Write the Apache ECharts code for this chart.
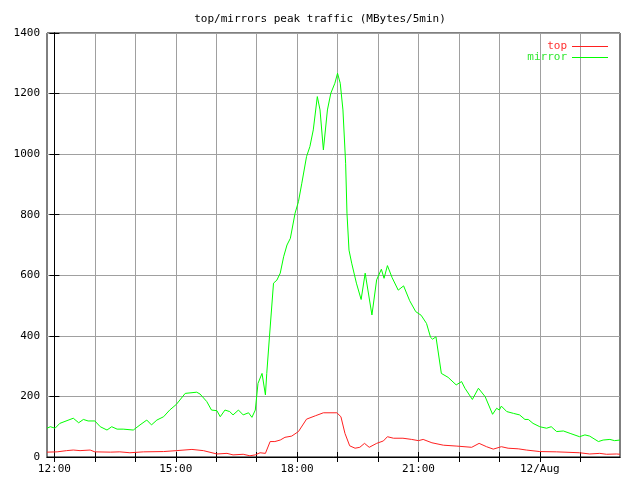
<!DOCTYPE html>
<html><head><meta charset="utf-8">
<script src="https://cdn.jsdelivr.net/npm/echarts@6/dist/echarts.min.js"></script>
<style>html,body{margin:0;padding:0;background:#fff}#c{width:640px;height:480px}</style>
</head><body><div id="c"></div>
<script>
// time in minutes after 12:00 (11 Aug)
const topTimes = [-11,4,18,28,38,53,60,83,97,112,132,162,181,204,221,241,256,265,280,290,298,305,313,320,327,335,342,352,362,374,387,399,419,425,431,438,446,453,460,467,478,488,494,503,517,530,540,547,560,577,597,619,630,641,651,663,673,688,700,720,745,779,794,809,819,834,839];
const topValues = [16,17,21,23,21,23,17,16,17,14,17,18,21,25,21,10,12,7,9,4,7,14,12,51,51,56,65,69,84,125,136,146,146,133,78,37,29,32,45,32,45,53,67,62,62,58,54,58,47,39,36,32,45,34,26,34,29,27,23,18,17,14,10,12,9,10,9];
const mirrorTimes = [-11,-6,1,8,28,36,43,50,60,68,78,85,93,102,117,127,137,144,152,162,171,181,194,211,216,226,233,241,246,253,260,265,273,280,288,293,298,302,308,313,315,319,325,330,335,340,345,350,357,362,367,374,379,384,390,394,399,405,410,416,420,424,428,432,434,437,441,448,455,461,471,478,485,489,494,501,510,518,527,536,544,552,558,561,566,574,584,596,604,609,620,629,639,650,656,660,663,671,681,690,698,703,710,720,730,737,745,755,765,779,787,794,807,814,824,831,839];
const mirrorValues = [95,100,95,111,128,113,124,119,119,100,89,100,92,92,89,106,122,106,122,133,155,174,210,214,208,183,155,153,133,155,150,139,155,139,146,131,155,243,276,205,276,397,574,584,607,661,700,722,805,843,904,992,1025,1080,1190,1146,1014,1146,1201,1234,1267,1234,1146,970,805,683,640,574,520,607,469,585,620,590,632,592,551,565,516,480,468,441,395,389,397,276,263,238,249,227,190,227,199,141,161,155,168,150,144,139,124,124,111,100,95,100,84,86,78,67,73,69,51,56,58,54,56];
const hourTicks = [0,60,120,180,240,300,360,420,480,540,600,660,720,780];
const labelTicks = [0,180,360,540,720];
const labelTexts = ['12:00','15:00','18:00','21:00','12/Aug'];

const font = 'DejaVu Sans Mono';
const pair = (ts, vs) => ts.map((t, i) => [t, vs[i]]);
const chart = echarts.init(document.getElementById('c'), null, {renderer: 'canvas'});
const xBase = {
  type: 'value', min: -11, max: 839,
  axisLine: {show: true, lineStyle: {color: '#000', width: 1}},
  axisTick: {show: true, inside: true, length: 5, customValues: hourTicks, lineStyle: {color: '#000'}},
  splitLine: {show: false}
};
chart.setOption({
  animation: false,
  backgroundColor: '#fff',
  title: {text: 'top/mirrors peak traffic (MBytes/5min)', left: 'center', top: 9,
    textStyle: {fontFamily: font, fontSize: 11, fontWeight: 'normal', color: '#000'}},
  legend: {
    orient: 'vertical', right: 27, top: 36, align: 'right', itemGap: 0,
    itemWidth: 36, itemHeight: 1, icon: 'rect',
    textStyle: {fontFamily: font, fontSize: 11},
    data: [{name: 'top', textStyle: {color: '#ff3030'}}, {name: 'mirror', textStyle: {color: '#30e830'}}]
  },
  grid: {left: 47, right: 20, top: 33, bottom: 23, show: true, borderColor: '#000', borderWidth: 1},
  xAxis: [
    Object.assign({}, xBase, {
      position: 'bottom',
      splitLine: {show: true, lineStyle: {color: '#a0a0a0', width: 1}},
      axisLabel: {show: true, customValues: labelTicks, margin: 7, fontFamily: font, fontSize: 11, color: '#000',
        formatter: v => labelTexts[labelTicks.indexOf(v)]}
    }),
    Object.assign({}, xBase, {position: 'top', axisLabel: {show: false}})
  ],
  yAxis: [
    {type: 'value', min: 0, max: 1400, interval: 200, position: 'left',
      axisLine: {show: true, lineStyle: {color: '#000'}},
      axisTick: {show: true, inside: true, length: 5, lineStyle: {color: '#000'}},
      splitLine: {show: true, lineStyle: {color: '#a0a0a0', width: 1}},
      axisLabel: {margin: 7, fontFamily: font, fontSize: 11, color: '#000', formatter: v => String(v)}},
    {type: 'value', min: 0, max: 1400, interval: 200, position: 'right',
      axisLine: {show: true, lineStyle: {color: '#000'}},
      axisTick: {show: true, inside: true, length: 5, lineStyle: {color: '#000'}},
      splitLine: {show: false}, axisLabel: {show: false}}
  ],
  series: [
    {name: 'top', type: 'line', data: pair(topTimes, topValues), showSymbol: false, symbol: 'none',
      lineStyle: {color: '#ff2020', width: 1}, itemStyle: {color: '#ff2020'}, z: 3},
    {name: 'mirror', type: 'line', data: pair(mirrorTimes, mirrorValues), showSymbol: false, symbol: 'none',
      lineStyle: {color: '#00ff00', width: 1}, itemStyle: {color: '#00ff00'}, z: 3}
  ]
});
</script></body></html>
